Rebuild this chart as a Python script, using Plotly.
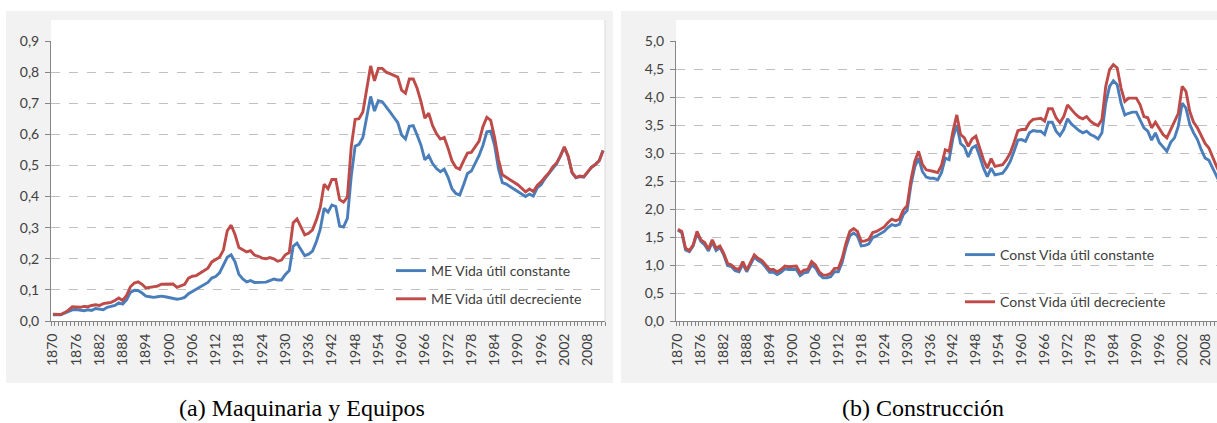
import plotly.graph_objects as go

# ---------------- data ----------------
years = list(range(1870, 2013))
x_tick_years = list(range(1870, 2013, 6))

me_decreciente = [
    0.022, 0.022, 0.021, 0.027, 0.035, 0.046, 0.046, 0.044, 0.047, 0.046,
    0.050, 0.052, 0.050, 0.056, 0.058, 0.060, 0.066, 0.074, 0.066, 0.082,
    0.110, 0.122, 0.126, 0.118, 0.106, 0.108, 0.108, 0.112, 0.118, 0.118,
    0.118, 0.119, 0.108, 0.114, 0.118, 0.138, 0.144, 0.146, 0.154, 0.162,
    0.170, 0.190, 0.197, 0.205, 0.228, 0.290, 0.308, 0.278, 0.236, 0.228,
    0.222, 0.226, 0.212, 0.208, 0.202, 0.200, 0.204, 0.200, 0.192, 0.196,
    0.213, 0.220, 0.315, 0.328, 0.300, 0.277, 0.282, 0.293, 0.325, 0.365,
    0.440, 0.425, 0.455, 0.455, 0.390, 0.382, 0.398, 0.560, 0.648, 0.650,
    0.672, 0.740, 0.820, 0.772, 0.812, 0.812, 0.800, 0.795, 0.790, 0.784,
    0.742, 0.732, 0.778, 0.778, 0.748, 0.705, 0.652, 0.668, 0.628, 0.602,
    0.585, 0.590, 0.555, 0.515, 0.494, 0.488, 0.515, 0.540, 0.542, 0.560,
    0.578, 0.625, 0.655, 0.645, 0.590, 0.520, 0.470, 0.462, 0.455, 0.446,
    0.438, 0.428, 0.415, 0.424, 0.416, 0.436, 0.447, 0.462, 0.476, 0.495,
    0.508, 0.530, 0.560, 0.530, 0.478, 0.462, 0.466, 0.464, 0.480, 0.494,
    0.503, 0.515, 0.548,
]

me_constante = [
    0.020, 0.020, 0.020, 0.025, 0.030, 0.036, 0.037, 0.035, 0.033, 0.036,
    0.034, 0.040, 0.038, 0.036, 0.044, 0.046, 0.050, 0.058, 0.054, 0.068,
    0.092, 0.099, 0.098, 0.090, 0.080, 0.078, 0.076, 0.078, 0.080, 0.078,
    0.075, 0.074, 0.070, 0.072, 0.076, 0.088, 0.095, 0.102, 0.108, 0.116,
    0.124, 0.138, 0.143, 0.155, 0.180, 0.205, 0.213, 0.190, 0.150, 0.135,
    0.126, 0.130, 0.124, 0.124, 0.124, 0.125, 0.130, 0.135, 0.132, 0.132,
    0.150, 0.162, 0.240, 0.250, 0.230, 0.210, 0.215, 0.225, 0.255, 0.295,
    0.362, 0.350, 0.373, 0.368, 0.305, 0.302, 0.330, 0.465, 0.562, 0.568,
    0.590, 0.650, 0.722, 0.675, 0.708, 0.705, 0.690, 0.672, 0.655, 0.638,
    0.598, 0.585, 0.626, 0.628, 0.598, 0.565, 0.518, 0.532, 0.506, 0.490,
    0.480, 0.488, 0.462, 0.425, 0.410, 0.405, 0.438, 0.474, 0.482, 0.505,
    0.532, 0.565, 0.608, 0.610, 0.565, 0.490, 0.445, 0.440, 0.432, 0.424,
    0.418, 0.408, 0.400, 0.408, 0.402, 0.428, 0.438, 0.458, 0.476, 0.490,
    0.505, 0.530, 0.558, 0.528, 0.476, 0.460, 0.464, 0.462, 0.478, 0.494,
    0.503, 0.515, 0.548,
]

const_decreciente = [
    1.64, 1.60, 1.30, 1.26, 1.36, 1.60, 1.45, 1.40, 1.28, 1.45,
    1.30, 1.34, 1.21, 1.03, 1.00, 0.94, 0.92, 1.06, 0.91, 1.06,
    1.18, 1.12, 1.08, 1.00, 0.92, 0.92, 0.88, 0.92, 0.98, 0.97,
    0.97, 0.98, 0.86, 0.91, 0.92, 1.06, 1.00, 0.88, 0.82, 0.82,
    0.85, 0.94, 0.94, 1.12, 1.39, 1.60, 1.65, 1.60, 1.42, 1.43,
    1.46, 1.58, 1.60, 1.64, 1.68, 1.76, 1.82, 1.79, 1.82, 1.98,
    2.06, 2.52, 2.85, 3.03, 2.80, 2.70, 2.69, 2.67, 2.65, 2.78,
    3.06, 3.03, 3.39, 3.68, 3.33, 3.27, 3.12, 3.25, 3.30, 3.09,
    2.88, 2.73, 2.90, 2.76, 2.77, 2.79, 2.88, 3.00, 3.19, 3.40,
    3.42, 3.42, 3.54, 3.60, 3.61, 3.62, 3.57, 3.79, 3.79, 3.63,
    3.54, 3.65, 3.86, 3.77, 3.70, 3.64, 3.61, 3.65, 3.57, 3.52,
    3.49, 3.60, 4.19, 4.49, 4.58, 4.52, 4.16, 3.92, 3.98, 3.98,
    3.98, 3.86, 3.65, 3.63, 3.45, 3.55, 3.43, 3.33, 3.27, 3.42,
    3.55, 3.71, 4.19, 4.10, 3.74, 3.55, 3.45, 3.30, 3.17, 3.09,
    2.92, 2.76, 2.62,
]

const_constante = [
    1.62, 1.58, 1.27, 1.24, 1.34, 1.57, 1.42, 1.36, 1.25, 1.41,
    1.26, 1.31, 1.18, 0.99, 0.97, 0.90, 0.88, 1.02, 0.88, 1.02,
    1.14, 1.08, 1.04, 0.96, 0.87, 0.87, 0.83, 0.87, 0.93, 0.92,
    0.92, 0.92, 0.81, 0.86, 0.87, 1.00, 0.95, 0.83, 0.77, 0.77,
    0.79, 0.88, 0.88, 1.05, 1.32, 1.52, 1.57, 1.52, 1.34, 1.35,
    1.38, 1.49, 1.52, 1.56, 1.60, 1.67, 1.72, 1.70, 1.73, 1.90,
    1.97, 2.43, 2.75, 2.91, 2.67, 2.57, 2.55, 2.55, 2.52, 2.65,
    2.91, 2.88, 3.27, 3.50, 3.17, 3.11, 2.93, 3.09, 3.13, 2.94,
    2.73, 2.58, 2.73, 2.61, 2.63, 2.64, 2.73, 2.85, 3.03, 3.23,
    3.24, 3.21, 3.36, 3.40, 3.39, 3.39, 3.33, 3.55, 3.55, 3.39,
    3.31, 3.42, 3.61, 3.52, 3.46, 3.40, 3.36, 3.39, 3.33, 3.30,
    3.25, 3.36, 3.89, 4.19, 4.29, 4.22, 3.89, 3.68, 3.71, 3.73,
    3.73, 3.60, 3.45, 3.39, 3.23, 3.36, 3.19, 3.11, 3.03, 3.19,
    3.27, 3.48, 3.89, 3.80, 3.51, 3.36, 3.24, 3.06, 2.91, 2.87,
    2.72, 2.58, 2.45,
]

names_a = ["ME Vida útil constante", "ME Vida útil decreciente"]
names_b = ["Const Vida útil constante", "Const Vida útil decreciente"]
captions = ["(a) Maquinaria y Equipos", "(b) Construcción"]

# ---------------- styling ----------------
W, H = 1217, 423
BLUE = "#4A7EBB"
RED = "#BE4B48"
TXT = "#404040"
AX = "#868686"
GRID = "#C0C0C0"
FONT = "Lato"


def px(x):
    return x / W


def py(y):
    return 1 - y / H


fig = go.Figure()

fig.add_trace(go.Scatter(x=years, y=me_constante, name=names_a[0], mode="lines",
                         line=dict(color=BLUE, width=2.9), xaxis="x", yaxis="y",
                         legend="legend", legendgroup="a1"))
fig.add_trace(go.Scatter(x=years, y=me_decreciente, name=names_a[1], mode="lines",
                         line=dict(color=RED, width=2.9), xaxis="x", yaxis="y",
                         legend="legend", legendgroup="a2"))
fig.add_trace(go.Scatter(x=years, y=const_constante, name=names_b[0], mode="lines",
                         line=dict(color=BLUE, width=2.9), xaxis="x2", yaxis="y2",
                         legend="legend2", legendgroup="b1"))
fig.add_trace(go.Scatter(x=years, y=const_decreciente, name=names_b[1], mode="lines",
                         line=dict(color=RED, width=2.9), xaxis="x2", yaxis="y2",
                         legend="legend2", legendgroup="b2"))

tickfont = dict(family=FONT, size=14, color=TXT)


def xaxis_cfg(dom, rng, anchor):
    return dict(
        domain=dom, range=rng, anchor=anchor, automargin=False,
        tickmode="array", tickvals=x_tick_years, ticktext=[str(v) for v in x_tick_years],
        tickangle=-90, tickfont=tickfont, ticks="", showgrid=False, zeroline=False,
        showline=True, linecolor=AX, linewidth=1, ticklabelstandoff=6,
        minor=dict(ticks="outside", ticklen=4, tickcolor=AX, dtick=1, tick0=1869.5,
                   showgrid=False),
        fixedrange=True,
    )


def yaxis_cfg(dom, rng, dtick, anchor):
    return dict(
        domain=dom, range=rng, anchor=anchor, automargin=False,
        dtick=dtick, tick0=0, tickformat=".1f",
        tickfont=tickfont, ticks="outside", ticklen=5, tickcolor=AX, ticklabelstandoff=3,
        showgrid=True, gridcolor=GRID, griddash="dash", gridwidth=1,
        zeroline=False, showline=True, linecolor=AX, linewidth=1, fixedrange=True,
    )


ydom = [py(321), py(41)]

fig.update_layout(
    template="none",
    width=W, height=H, margin=dict(l=0, r=0, t=0, b=0, pad=0, autoexpand=False),
    paper_bgcolor="white", plot_bgcolor="white",
    font=dict(family=FONT, size=14, color=TXT),
    separators=",.",
    xaxis=xaxis_cfg([px(51), px(605)], [1869.5, 2012.5], "y"),
    yaxis=yaxis_cfg(ydom, [0, 0.9001], 0.1, "x"),
    xaxis2=xaxis_cfg([px(676), 1.0], [1869.5, 1869.5 + 541 / 3.82], "y2"),
    yaxis2=yaxis_cfg(ydom, [0, 5.0005], 0.5, "x2"),
    legend=dict(x=px(391), y=py(255), xanchor="left", yanchor="top",
                bgcolor="rgba(0,0,0,0)", font=dict(family=FONT, size=14, color=TXT),
                tracegroupgap=7, traceorder="grouped", itemwidth=30),
    legend2=dict(x=px(960), y=py(239), xanchor="left", yanchor="top",
                 bgcolor="rgba(0,0,0,0)", font=dict(family=FONT, size=14, color=TXT),
                 tracegroupgap=26, traceorder="grouped", itemwidth=30),
    showlegend=True,
)

shapes = [
    # chart-area panels
    dict(type="rect", xref="paper", yref="paper", x0=px(6), x1=px(613), y0=py(383), y1=py(11),
         fillcolor="#F2F2F2", line=dict(width=0), layer="below"),
    dict(type="rect", xref="paper", yref="paper", x0=px(621), x1=1.0, y0=py(383), y1=py(11),
         fillcolor="#F2F2F2", line=dict(width=0), layer="below"),
    # plot areas
    dict(type="rect", xref="paper", yref="paper", x0=px(51), x1=px(605), y0=py(321), y1=py(20),
         fillcolor="white", line=dict(width=0), layer="below"),
    dict(type="rect", xref="paper", yref="paper", x0=px(676), x1=1.0, y0=py(321), y1=py(20),
         fillcolor="white", line=dict(width=0), layer="below"),
    dict(type="line", xref="paper", yref="paper", x0=px(605), x1=px(605), y0=py(321), y1=py(20),
         line=dict(color="#D9D9D9", width=1), layer="below"),
]
fig.update_layout(shapes=shapes)

fig.add_annotation(text=captions[0], x=px(302), y=py(408), xref="paper", yref="paper",
                   showarrow=False, xanchor="center", yanchor="middle",
                   font=dict(family="Liberation Serif", size=24, color="black"))
fig.add_annotation(text=captions[1], x=px(923), y=py(408), xref="paper", yref="paper",
                   showarrow=False, xanchor="center", yanchor="middle",
                   font=dict(family="Liberation Serif", size=24, color="black"))

post = (
    "var s='margin:0;padding:0;overflow:hidden;width:1217px;height:423px;';"
    "document.documentElement.style.cssText=s;document.body.style.cssText=s;"
    "var gd=document.getElementById('{plot_id}');"
    "gd.style.position='fixed';gd.style.left='0px';gd.style.top='0px';"
)

fig.write_html("out.html", config={"displayModeBar": False}, post_script=post)
